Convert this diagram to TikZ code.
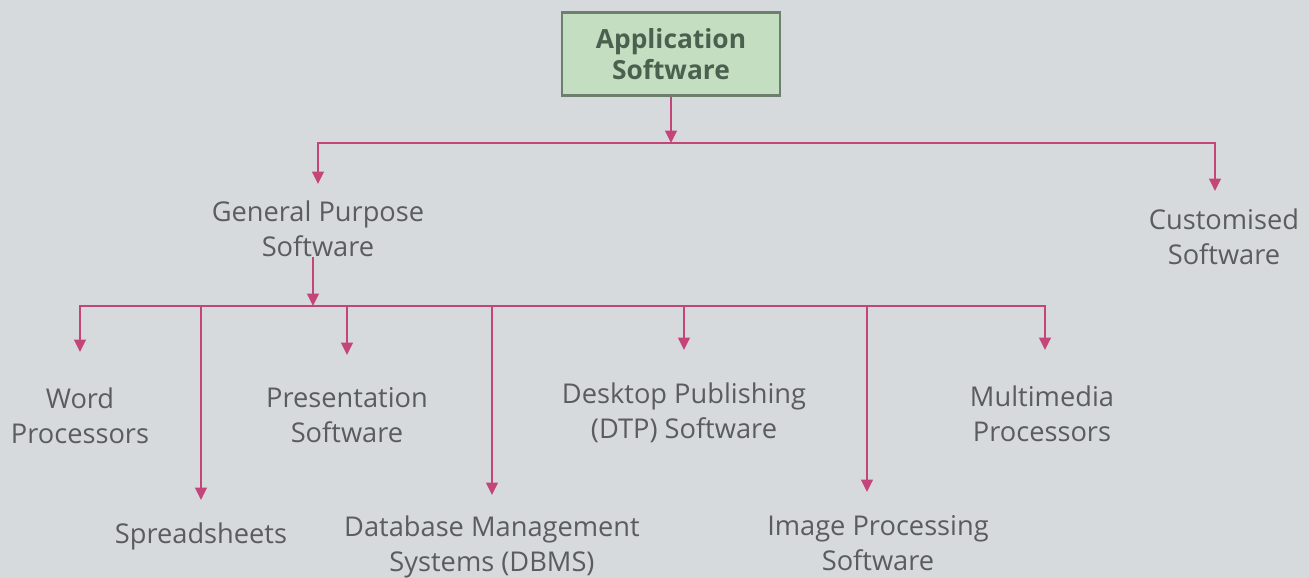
\documentclass[tikz,border=0pt]{standalone}
\usepackage{fontspec}
\setmainfont{Open Sans}
\usetikzlibrary{arrows.meta}
\definecolor{bg}{HTML}{D7DADC}
\definecolor{link}{HTML}{C4457A}
\definecolor{boxfill}{HTML}{C3DEC0}
\definecolor{boxline}{HTML}{6E7F6E}
\definecolor{roottext}{HTML}{4A6150}
\definecolor{leaftext}{HTML}{5A5C5E}
\begin{document}
\begin{tikzpicture}[x=0.02cm,y=-0.02cm,
  leaf/.style={inner sep=0pt, align=center, text=leaftext, anchor=north,
    font=\fontsize{15.5}{20}\selectfont},
  rootbox/.style={draw=boxline, line width=1.2pt, fill=boxfill,
    minimum width=4.36cm, minimum height=1.66cm, align=center, text=roottext,
    font=\fontsize{15}{17.6}\selectfont\bfseries},
  arr/.style={draw=link, line width=1.3pt, -{Triangle[length=7pt,width=6.5pt]}},
]
\fill[bg] (0,0) rectangle (1309,578);
\useasboundingbox (0,0) rectangle (1309,578);

\node[rootbox] (root) at (671,54) {Application\\Software};

\node[leaf] (gps) at (318,200) {General Purpose\\Software};
\node[leaf] (cust) at (1224,208) {Customised\\Software};

\node[leaf] (word) at (80,387) {Word\\Processors};
\node[leaf] (spread) at (201,522) {Spreadsheets};
\node[leaf] (pres) at (347,387) {Presentation\\Software};
\node[leaf] (dbms) at (492,515) {Database Management\\Systems (DBMS)};
\node[leaf] (dtp) at (684,382) {Desktop Publishing\\(DTP) Software};
\node[leaf] (img) at (878,515) {Image Processing\\Software};
\node[leaf] (mm) at (1042,385) {Multimedia\\Processors};

\coordinate (j1) at (671,143);
\coordinate (j2) at (313,306);

\draw[arr] (root.south) -- (j1);
\draw[arr, shorten >=0.32cm] (j1) -| (gps.north);
\draw[arr, shorten >=0.34cm] (j1) -| ([xshift=-0.18cm]cust.north);

\draw[arr] (gps.south -| j2) -- (j2);
\draw[arr, shorten >=0.7cm] (j2) -| (word.north);
\draw[arr, shorten >=0.44cm] (j2) -| (spread.north);
\draw[arr, shorten >=0.64cm] (j2) -| (pres.north);
\draw[arr, shorten >=0.4cm] (j2) -| (dbms.north);
\draw[arr, shorten >=0.64cm] (j2) -| (dtp.north);
\draw[arr, shorten >=0.46cm] (j2) -| ([xshift=-0.22cm]img.north);
\draw[arr, shorten >=0.7cm] (j2) -| ([xshift=0.06cm]mm.north);
\end{tikzpicture}
\end{document}
